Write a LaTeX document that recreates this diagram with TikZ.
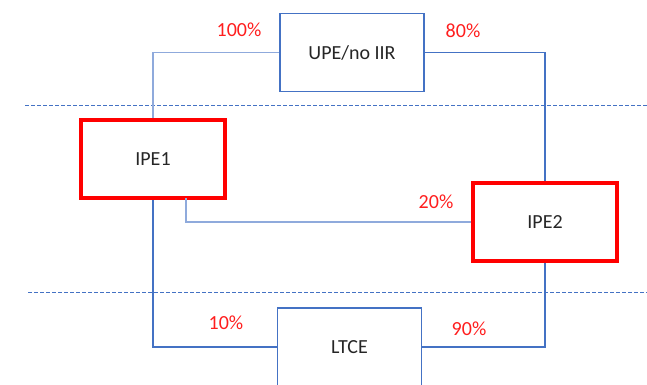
\documentclass[tikz,border=0pt]{standalone}
\usepackage{fontspec}
\setmainfont{Carlito}
\usetikzlibrary{positioning}

\definecolor{lineblue}{RGB}{68,114,196}
\definecolor{paleblue}{RGB}{143,170,220}
\definecolor{pctred}{RGB}{255,30,30}

\begin{document}
\begin{tikzpicture}[x=1pt, y=-1pt,
  every node/.style={font=\fontsize{20}{24}\selectfont},
  unit/.style={draw=lineblue, line width=1.6pt, text=black!85, inner sep=0pt,
               minimum width=144pt, minimum height=78pt},
  hotunit/.style={unit, draw=red, line width=4pt},
  link/.style={lineblue, line width=1.6pt},
  thinlink/.style={paleblue, line width=1.1pt},
  pct/.style={text=pctred}]
  % Define dimensions
  \def\W{647}
  \def\H{384}
  \clip (0,0) rectangle (\W,\H);

  % Level separators
  \draw[lineblue, line width=0.9pt, dash pattern=on 4pt off 2pt] (25,105) -- (\W,105);
  \draw[lineblue, line width=0.9pt, dash pattern=on 4pt off 2pt] (28,292) -- (\W,292);

  % Boxes
  \node[unit]    (UPE)  at (352,52.5) {UPE/no IIR};
  \node[hotunit] (IPE1) at (153,159)  {IPE1};
  \node[hotunit] (IPE2) at (545,222)  {IPE2};
  \node[unit]    (LTCE) at (349.5,347) {LTCE};

  % Connectors
  \coordinate (tap) at (186,198);
  \draw[thinlink] (UPE.west) -| (IPE1.north);
  \draw[link] (UPE.east) -| (IPE2.north);
  \draw[thinlink] (tap) |- (IPE2.west);
  \draw[link] (IPE1.south) |- (LTCE.west);
  \draw[link] (IPE2.south) |- (LTCE.east);

  % Shares
  \node[pct] (p100) at (239,30)  {100\%};
  \node[pct] (p80)  at (463,31)  {80\%};
  \node[pct] (p20)  at (436,202) {20\%};
  \node[pct] (p10)  at (226,323) {10\%};
  \node[pct] (p90)  at (469,329) {90\%};
\end{tikzpicture}
\end{document}
